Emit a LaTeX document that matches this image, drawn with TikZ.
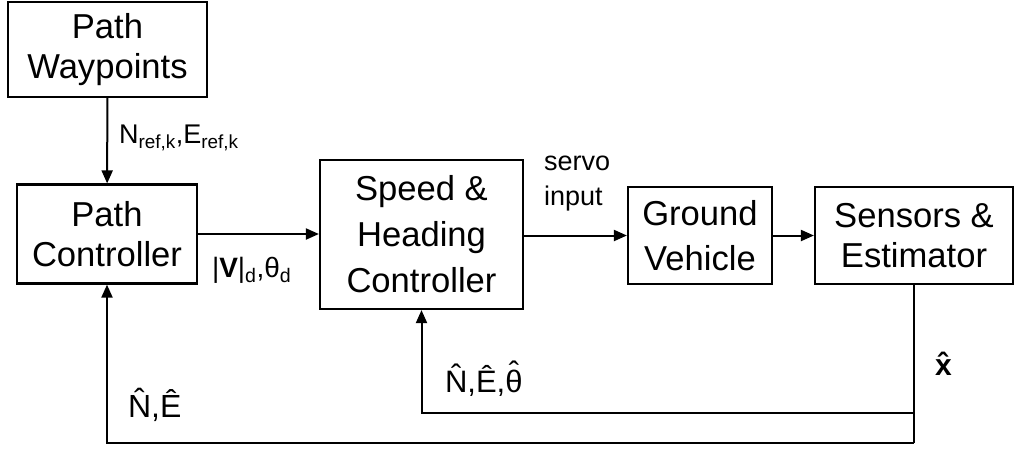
\documentclass[tikz,border=0pt]{standalone}
\usepackage{fontspec}
\setmainfont{Liberation Sans}
\usetikzlibrary{arrows.meta}
\newcommand{\hatsym}[1]{\leavevmode\vbox{\offinterlineskip\halign{\hfil##\hfil\cr\char"02C6\cr\noalign{\kern-0.45em}#1\cr}}}
\tikzset{
  blk/.style={draw, line width=2.2pt, align=center, inner sep=0pt,
    font={\fontsize{34.6}{40}\selectfont}},
  lbl/.style={inner sep=0pt, font={\fontsize{27}{35}\selectfont}}
}

\begin{document}
\begin{tikzpicture}[>={Triangle[length=13pt,width=11pt]}, x=1pt, y=-1pt, line width=2pt]
  \useasboundingbox (0,0) rectangle (1015,448);
  % blocks of the loop
  \node[blk, minimum width=199pt, minimum height=95pt] (wayp) at (107.5,49.5) {Path\\Waypoints};
  \node[blk, minimum width=180pt, minimum height=99pt] (pathc) at (107,234) {Path\\Controller};
  \node[blk, minimum width=203pt, minimum height=149pt, font={\fontsize{34.6}{46}\selectfont}] (speed) at (421.5,234.5) {Speed \&\\Heading\\Controller};
  \node[blk, minimum width=144pt, minimum height=97pt, font={\fontsize{34.6}{45}\selectfont}] (ground) at (700,235.5) {Ground\\Vehicle};
  \node[blk, minimum width=198pt, minimum height=97pt] (sens) at (914,235.5) {Sensors \&\\Estimator};
  \coordinate (inner) at (0,413);
  \coordinate (outer) at (0,443);
  % forward path
  \draw[->] (wayp) -- (pathc);
  \draw[->] (pathc.east) -- (speed.west |- pathc.east);
  \draw[->] (speed.east |- ground.west) -- (ground.west);
  \draw[->] (ground) -- (sens);
  % feedback
  \draw (sens.south) -- (sens.south |- outer);
  \draw[->] (sens.south |- outer) -| (pathc.south);
  \draw[->] (sens.south |- inner) -| (speed.south);
  % signal labels
  \node[lbl, anchor=base west] (nref) at (118,143) {N\textsubscript{ref,k},E\textsubscript{ref,k}};
  \node[lbl, anchor=base west, font={\fontsize{28}{34}\selectfont}] (vd) at (211,277) {|\textbf{V}|\textsubscript{d},θ\textsubscript{d}};
  \node[lbl, anchor=north west, align=left] (servo) at (543,155) {servo\\input};
  \node[lbl, anchor=base west, font={\fontsize{32}{38}\selectfont}] (ne) at (127,417) {\^{N},\^{E}};
  \node[lbl, anchor=base west, font={\fontsize{31}{38}\selectfont}] (net) at (444,392) {\^{N},\^{E},\hatsym{θ}};
  \node[lbl, anchor=base west, font={\fontsize{30}{38}\selectfont}] (xh) at (934,375) {\textbf{\^{x}}};
\end{tikzpicture}
\end{document}
